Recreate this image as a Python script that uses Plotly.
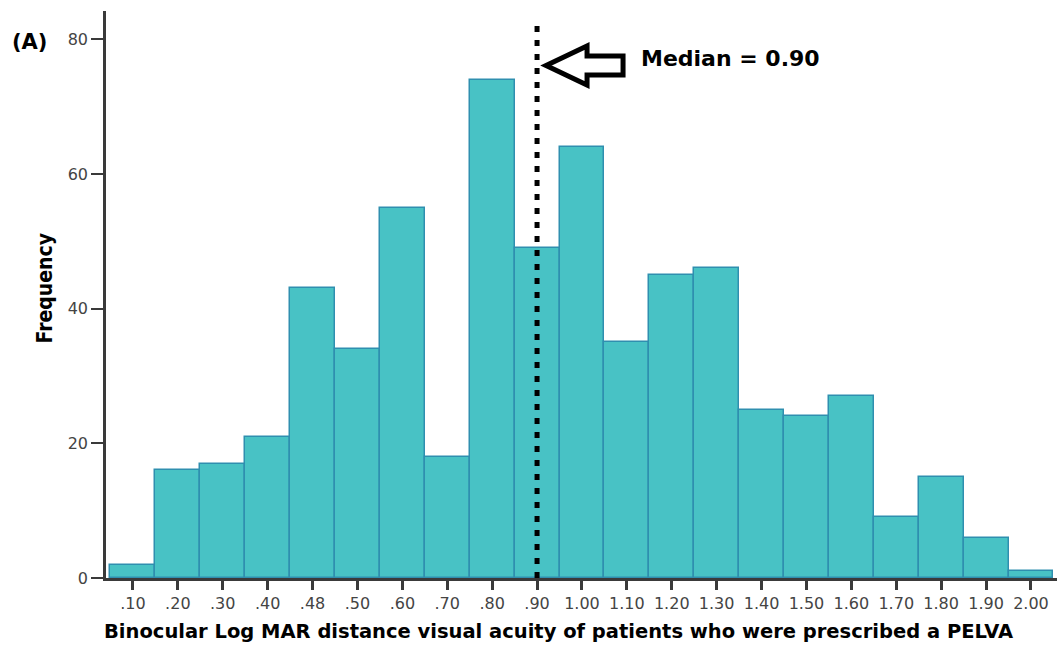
import plotly.graph_objects as go

# Binocular LogMAR distance acuity bins and patient counts
acuity_labels = [".10", ".20", ".30", ".40", ".48", ".50", ".60", ".70", ".80", ".90",
                 "1.00", "1.10", "1.20", "1.30", "1.40", "1.50", "1.60", "1.70", "1.80",
                 "1.90", "2.00"]
frequency = [2, 16, 17, 21, 43, 34, 55, 18, 74, 49,
             64, 35, 45, 46, 25, 24, 27, 9, 15, 6, 1]
y_ticks = [0, 20, 40, 60, 80]
median_label = ".90"
median_text = "Median = 0.90"
x_title = "Binocular Log MAR distance visual acuity of patients who were prescribed a PELVA"

positions = list(range(len(acuity_labels)))
median_pos = acuity_labels.index(median_label)

BAR_FILL = "#48C2C5"
BAR_EDGE = "#2F8FAF"
AXIS_COL = "#3a3a3a"
TICK_FONT = dict(family="DejaVu Sans, Arial, sans-serif", size=16, color="#444444")

fig = go.Figure()
fig.add_trace(go.Bar(
    x=positions,
    y=frequency,
    width=1.0,
    marker=dict(color=BAR_FILL, line=dict(color=BAR_EDGE, width=1.5)),
    showlegend=False,
))

# dotted median marker
fig.add_shape(type="line", xref="x", yref="y",
              x0=median_pos, x1=median_pos, y0=0, y1=82,
              line=dict(color="black", width=5, dash="6px,8px"))

# hollow block arrow pointing at the median line
arrow_path = "M 9 0 L 50 19.5 L 50 9.5 L 86 9.5 L 86 -9.5 L 50 -9.5 L 50 -19.5 Z"
fig.add_shape(type="path", xref="x", yref="y",
              xsizemode="pixel", ysizemode="pixel",
              xanchor=median_pos, yanchor=76.1,
              path=arrow_path,
              line=dict(color="black", width=5),
              fillcolor="rgba(0,0,0,0)")

fig.add_annotation(x=median_pos, y=77.2, xref="x", yref="y",
                   xshift=102, xanchor="left", yanchor="middle",
                   text=f"<b>{median_text}</b>", showarrow=False,
                   font=dict(family="DejaVu Sans, Arial, sans-serif", size=22, color="black"))

fig.add_annotation(x=-0.101, y=0.945, xref="paper", yref="paper",
                   xanchor="left", yanchor="middle",
                   text="<b>(A)</b>", showarrow=False,
                   font=dict(family="DejaVu Sans, Arial, sans-serif", size=21, color="black"))

fig.add_annotation(x=-0.064, y=0.511, xref="paper", yref="paper",
                   xanchor="center", yanchor="middle", textangle=-90,
                   text="<b>Frequency</b>", showarrow=False,
                   font=dict(family="Liberation Sans Narrow, Arial Narrow, DejaVu Sans Condensed, sans-serif",
                             size=21, color="black"))

# x-axis caption
fig.add_annotation(x=0.476, y=-0.095, xref="paper", yref="paper",
                   xanchor="center", yanchor="middle",
                   text=f"<b>{x_title}</b>", showarrow=False,
                   font=dict(family="DejaVu Sans, Arial, sans-serif", size=19.5, color="black"))

fig.update_layout(
    width=1061, height=645,
    margin=dict(l=106, r=4, t=11, b=67),
    plot_bgcolor="white", paper_bgcolor="white",
    bargap=0,
    xaxis=dict(
        range=[-0.6, 20.58],
        tickmode="array", tickvals=positions, ticktext=acuity_labels,
        showgrid=False, zeroline=False,
        showline=True, linecolor=AXIS_COL, linewidth=2.5,
        ticks="outside", ticklen=9, tickwidth=2.5, tickcolor=AXIS_COL,
        tickfont=TICK_FONT,
    ),
    yaxis=dict(
        range=[0, 84.2],
        tickmode="array", tickvals=y_ticks,
        showgrid=False, zeroline=False,
        showline=True, linecolor=AXIS_COL, linewidth=2.5,
        ticks="outside", ticklen=12, tickwidth=2, tickcolor=AXIS_COL,
        tickfont=TICK_FONT,
    ),
)

fig.write_html("out.html")
